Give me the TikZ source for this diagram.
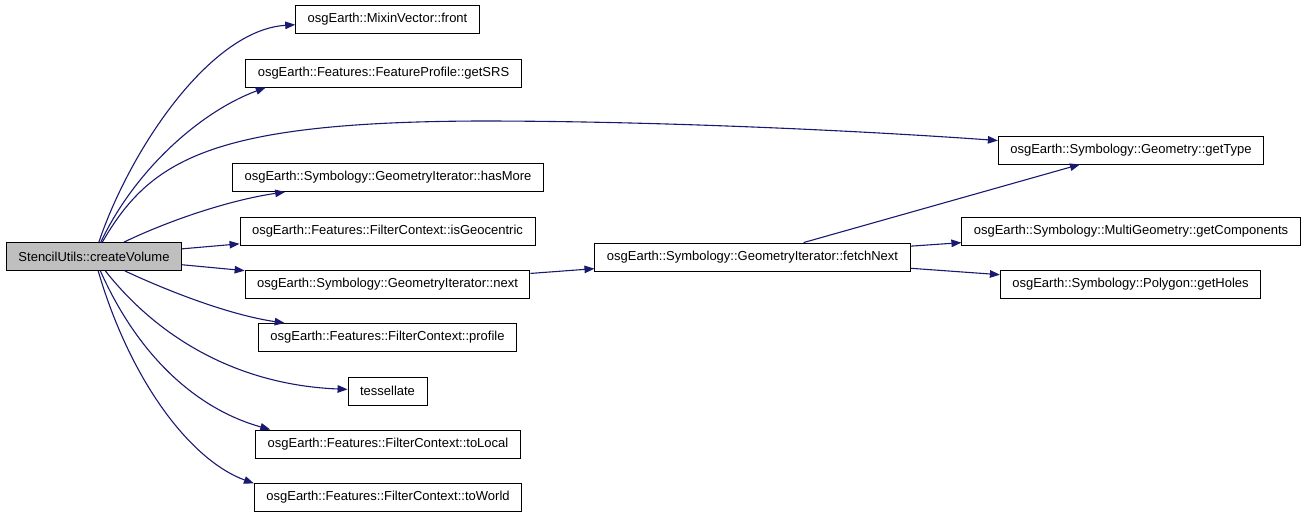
\documentclass[tikz,border=0pt]{standalone}
\usepackage{fontspec}
\setmainfont{Liberation Sans}
\usetikzlibrary{arrows.meta}
\definecolor{edgeblue}{RGB}{25,25,112}
\definecolor{boxgray}{RGB}{191,191,191}
\begin{document}
\begin{tikzpicture}[x=1pt, y=-1pt,
        every node/.style={draw=black, fill=white, line width=0.9pt, inner xsep=12pt, inner ysep=0pt, minimum height=28pt, font=\fontsize{13}{15}\selectfont},
        call/.style={draw=edgeblue, line width=1.1pt, -{Triangle[length=10pt, width=7.5pt]}}]
        \useasboundingbox (0,0) rectangle (1307,517);
        \node[fill=boxgray] (vol) at (94,256.5) {StencilUtils::createVolume};
        \node (front) at (387.5,19) {osgEarth::MixinVector::front};
        \node (srs) at (383.5,73) {osgEarth::Features::FeatureProfile::getSRS};
        \node (more) at (388,177.5) {osgEarth::Symbology::GeometryIterator::hasMore};
        \node (geo) at (387.5,231) {osgEarth::Features::FilterContext::isGeocentric};
        \node (next) at (387.5,284) {osgEarth::Symbology::GeometryIterator::next};
        \node (profile) at (387.5,337.5) {osgEarth::Features::FilterContext::profile};
        \node (tess) at (387.5,391) {tessellate};
        \node (local) at (388,444) {osgEarth::Features::FilterContext::toLocal};
        \node (world) at (388,497.5) {osgEarth::Features::FilterContext::toWorld};
        \node (fetch) at (752.5,257) {osgEarth::Symbology::GeometryIterator::fetchNext};
        \node (type) at (1131,150) {osgEarth::Symbology::Geometry::getType};
        \node (comp) at (1131,231) {osgEarth::Symbology::MultiGeometry::getComponents};
        \node (holes) at (1130.5,284) {osgEarth::Symbology::Polygon::getHoles};
        % calls from createVolume
        \draw[call] (vol) .. controls (130,150) and (210,30) .. (front);
        \draw[call] (vol) .. controls (135,170) and (200,112) .. (srs.187);
        \draw[call] (vol) .. controls (150,160) and (210,122) .. (480,121) .. controls (650,121) and (850,130) .. (type);
        \draw[call] (vol) .. controls (170,220) and (230,200) .. (more.188);
        \draw[call] (vol) -- (geo);
        \draw[call] (vol) -- (next);
        \draw[call] (vol) .. controls (170,292) and (230,315) .. (profile.172);
        \draw[call] (vol) .. controls (160,340) and (240,385) .. (tess);
        \draw[call] (vol) .. controls (140,360) and (200,410) .. (local.173);
        \draw[call] (vol) .. controls (130,380) and (190,460) .. (world.174);
        % calls from fetchNext
        \draw[call] (next) -- (fetch);
        \draw[call] (fetch) -- (type);
        \draw[call] (fetch) -- (comp);
        \draw[call] (fetch) -- (holes);
\end{tikzpicture}
\end{document}
